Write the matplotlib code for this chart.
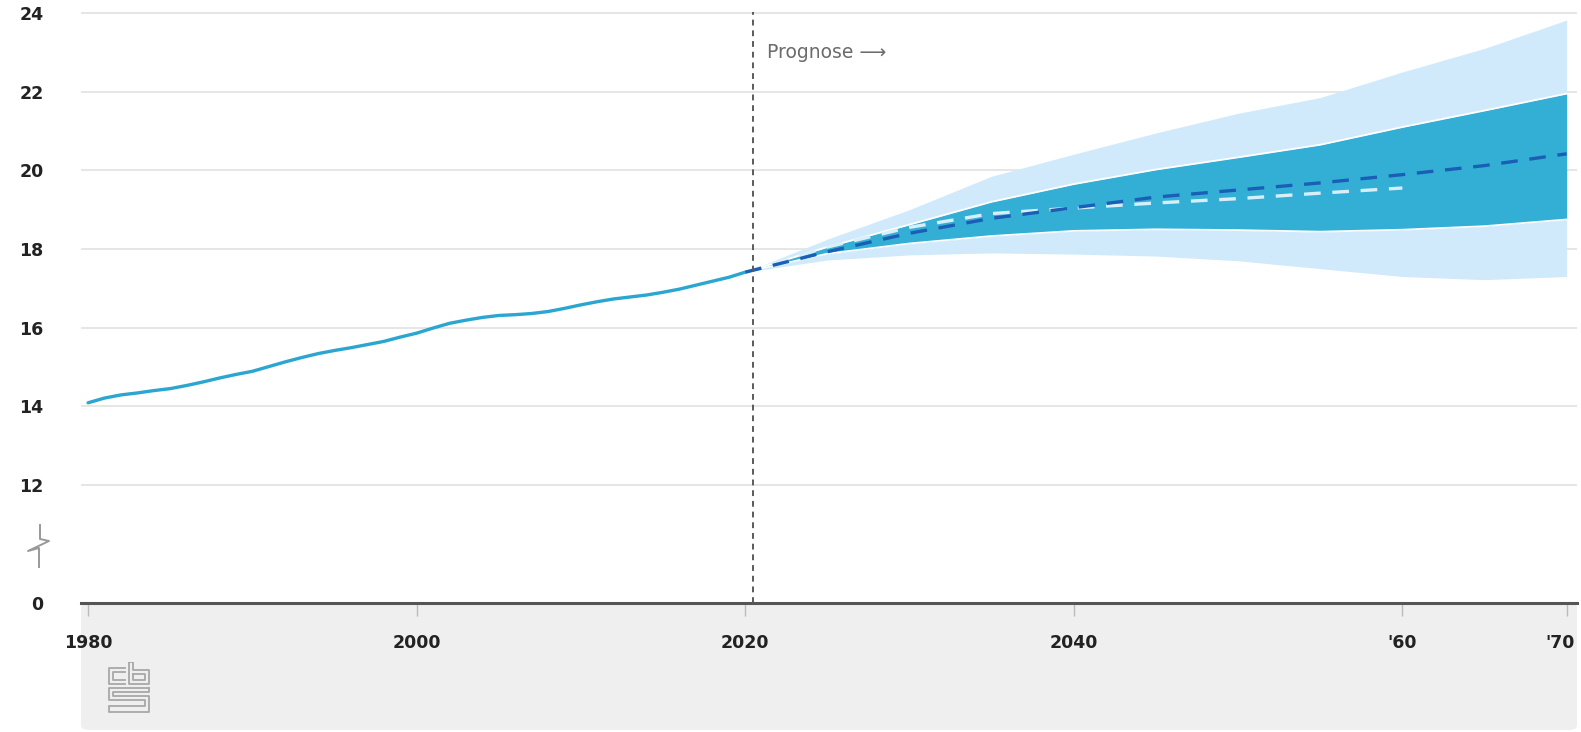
import numpy as np
import matplotlib
matplotlib.use("Agg")
import matplotlib.pyplot as plt
import matplotlib.transforms as mtransforms
from matplotlib.lines import Line2D
from matplotlib.patches import FancyBboxPatch

# --------------------------
# DATA (population, millions)
# --------------------------
hist_years = list(range(1980, 2021))
hist_pop = [14.09, 14.21, 14.29, 14.34, 14.40, 14.45, 14.53, 14.62, 14.72, 14.81,
            14.89, 15.01, 15.13, 15.24, 15.34, 15.42, 15.49, 15.57, 15.65, 15.76,
            15.86, 15.99, 16.11, 16.19, 16.26, 16.31, 16.33, 16.36, 16.41, 16.49,
            16.58, 16.66, 16.73, 16.78, 16.83, 16.90, 16.98, 17.08, 17.18, 17.28,
            17.41]

fc_years = [2020, 2025, 2030, 2035, 2040, 2045, 2050, 2055, 2060, 2065, 2070]
median = [17.41, 17.93, 18.40, 18.78, 19.05, 19.32, 19.50, 19.68, 19.89, 20.12, 20.42]
inner_hi = [17.41, 18.05, 18.62, 19.20, 19.65, 20.02, 20.33, 20.65, 21.10, 21.52, 21.95]
inner_lo = [17.41, 17.88, 18.14, 18.33, 18.46, 18.50, 18.48, 18.44, 18.49, 18.58, 18.75]
outer_hi = [17.41, 18.25, 19.00, 19.85, 20.41, 20.95, 21.45, 21.85, 22.50, 23.10, 23.82]
outer_lo = [17.41, 17.72, 17.85, 17.90, 17.87, 17.82, 17.70, 17.50, 17.30, 17.22, 17.30]

prev_years = [2020, 2025, 2030, 2035, 2040, 2045, 2050, 2055, 2060]
prev_fc = [17.41, 18.05, 18.55, 18.90, 19.04, 19.17, 19.28, 19.42, 19.55]

x_ticks = [1980, 2000, 2020, 2040, 2060, 2070]
x_labels = ["1980", "2000", "2020", "2040", "'60", "'70"]
y_ticks = [0, 12, 14, 16, 18, 20, 22, 24]

# --------------------------
# FIGURE
# --------------------------
W, H = 1581, 732
fig = plt.figure(figsize=(W / 100, H / 100), dpi=100)
ax = fig.add_axes([81 / W, 1 - 603 / H, (1577 - 81) / W, 603 / H])


# broken y axis: squeeze 0..12 into a short stretch
def fwd(y):
    y = np.asarray(y, float)
    return np.where(y >= 12, y, 12 - (12 - y) * 0.25)


def inv(v):
    v = np.asarray(v, float)
    return np.where(v >= 12, v, 12 - (12 - v) / 0.25)


ax.set_yscale("function", functions=(fwd, inv))
ax.set_ylim(0, 24.33)
ax.set_xlim(1979.57, 2070.63)

# grey footer behind the x labels
fig.add_artist(FancyBboxPatch((81 / W, 2 / H), (1577 - 81) / W, (129 - 2) / H,
                              boxstyle="round,pad=0,rounding_size=0.006",
                              transform=fig.transFigure, facecolor="#efefef",
                              edgecolor="none", zorder=-1))

# bands
ax.fill_between(fc_years, outer_lo, outer_hi, color="#d1eafb", lw=0, zorder=2)
ax.fill_between(fc_years, inner_lo, inner_hi, color="#33afd6", lw=0, zorder=3)
ax.plot(fc_years, inner_hi, color="white", lw=1.3, zorder=4)
ax.plot(fc_years, inner_lo, color="white", lw=1.3, zorder=4)

# lines
ax.plot(hist_years, hist_pop, color="#2aa6d0", lw=2.4, zorder=5,
        solid_capstyle="round")
ax.plot(prev_years, prev_fc, color="#d8effb", lw=2.4, dashes=(5, 3.5), zorder=5)
ax.plot(fc_years, median, color="#1a5fb6", lw=2.4, dashes=(5, 3.5), zorder=6)

# prognose marker
ax.axvline(2020.5, ymax=0.98, color="#5a5a5a", lw=1.4, dashes=(3, 2.5), zorder=7)
ax.text(2021.3, 23.0, "Prognose \u27f6", color="#6b6b6b", fontsize=13.5,
        va="center", ha="left", zorder=8)

# axes styling
for s in ["left", "right", "top"]:
    ax.spines[s].set_visible(False)
ax.spines["bottom"].set_color("#555555")
ax.spines["bottom"].set_linewidth(2.2)
ax.spines["bottom"].set_zorder(9)

ax.set_yticks(y_ticks)
ax.set_yticklabels([str(v) for v in y_ticks])
ax.set_xticks(x_ticks)
ax.set_xticklabels(x_labels)
ax.tick_params(axis="y", length=0, pad=27, labelsize=12.5, labelcolor="#222222")
ax.tick_params(axis="x", length=9, width=1, color="#bbbbbb", pad=13,
               labelsize=12.5, labelcolor="#222222")
for lab in ax.get_xticklabels() + ax.get_yticklabels():
    lab.set_fontweight("bold")
# keep the last label inside the figure
last = ax.get_xticklabels()[-1]
last.set_transform(last.get_transform() +
                   mtransforms.ScaledTranslation(-7 / 100, 0, fig.dpi_scale_trans))

for v in y_ticks[1:]:
    ax.axhline(v, color="#e4e4e4", lw=1.3, zorder=1)

# break symbol on the y axis
bx = np.array([40, 40, 49, 28, 39, 39])
by = np.array([525, 539, 541, 551, 548, 567])
fig.add_artist(Line2D(bx / W, 1 - by / H, transform=fig.transFigure,
                      color="#999999", lw=1.4))

# cbs logo (simple line drawing)
lg = fig.add_axes([107 / W, 1 - 714 / H, 44 / W, 52 / H])
lg.set_xlim(0, 44)
lg.set_ylim(52, 0)
lg.axis("off")
logo_parts = [
    [(18, 6), (2, 6), (2, 22), (18, 22)],
    [(18, 10), (6, 10), (6, 18), (18, 18)],
    [(22, 0), (22, 22), (42, 22), (42, 8), (26, 8), (26, 0), (22, 0)],
    [(26, 12), (38, 12), (38, 18), (26, 18), (26, 12)],
    [(42, 26), (2, 26), (2, 38), (38, 38), (38, 44), (2, 44), (2, 50), (42, 50),
     (42, 34), (6, 34), (6, 30), (42, 30), (42, 26)],
]
for part in logo_parts:
    px, py = zip(*part)
    lg.plot(px, py, color="#a8a8a8", lw=1.3)

fig.savefig("out.png", dpi=100)
